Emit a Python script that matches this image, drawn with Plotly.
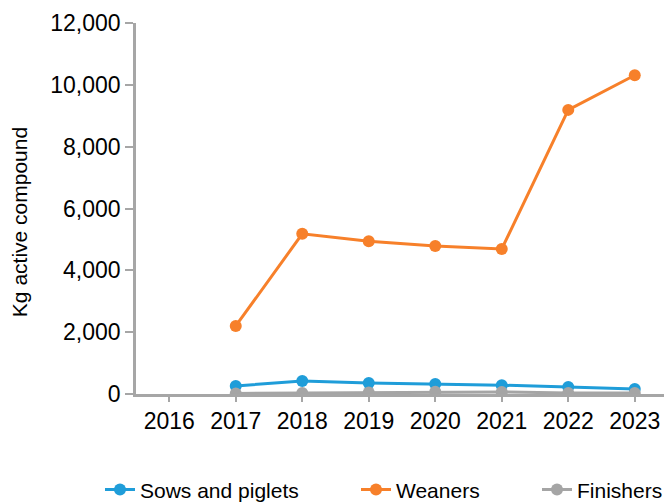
import plotly.graph_objects as go

years = ["2016", "2017", "2018", "2019", "2020", "2021", "2022", "2023"]
sows = [None, 260, 420, 355, 320, 285, 225, 165]
weaners = [None, 2200, 5180, 4940, 4790, 4690, 9190, 10310]
finishers = [None, 20, 35, 45, 70, 65, 35, 30]

series = [
    ("Sows and piglets", sows, "#1F9DD9", "legend"),
    ("Weaners", weaners, "#F7802A", "legend2"),
    ("Finishers", finishers, "#A5A5A5", "legend3"),
]

fig = go.Figure()
for name, vals, col, leg in series:
    fig.add_trace(go.Scatter(
        x=years, y=vals, name=name, mode="lines+markers",
        line=dict(color=col, width=3),
        marker=dict(color=col, size=12),
        connectgaps=False, legend=leg,
    ))

# page has an 8px body margin; figure is sized so the page layout matches
W, H = 664, 495
L, T, PW, PH = 128, 14.7, 532, 371.3
PB = T + PH

axis_gray = "#A6A6A6"
leg_common = dict(orientation="h", xanchor="left", y=(PB - 482) / PH, yanchor="middle",
                  font=dict(size=21), bgcolor="rgba(0,0,0,0)", borderwidth=0)

fig.update_layout(
    width=W, height=H,
    margin=dict(l=L, r=W - L - PW, t=T, b=H - PB, autoexpand=False),
    plot_bgcolor="white", paper_bgcolor="white",
    font=dict(family="Liberation Sans, Arial", size=23, color="black"),
    showlegend=True,
    legend=dict(x=(92 - L) / PW, **leg_common),
    legend2=dict(x=(348 - L) / PW, **leg_common),
    legend3=dict(x=(529 - L) / PW, **leg_common),
    xaxis=dict(type="category", categoryorder="array", categoryarray=years,
               range=[-0.5, 7.5], showgrid=False, showline=True, linecolor=axis_gray,
               linewidth=2.5, ticks="outside", tickcolor=axis_gray, ticklen=5, tickwidth=2,
               zeroline=False, tickfont=dict(size=23), automargin=False),
    yaxis=dict(range=[0, 12000], tickvals=[0, 2000, 4000, 6000, 8000, 10000, 12000],
               tickformat=",d", showgrid=False, showline=True, linecolor=axis_gray,
               linewidth=2.5, ticks="outside", tickcolor=axis_gray, ticklen=8, tickwidth=2,
               zeroline=False, tickfont=dict(size=23), automargin=False),
    annotations=[dict(text="Kg active compound", textangle=-90, xref="paper", yref="paper",
                      x=(11 - L) / PW, y=(PB - 214) / PH, xanchor="center", yanchor="middle",
                      showarrow=False, font=dict(size=21))],
)

fig.write_html("out.html")
